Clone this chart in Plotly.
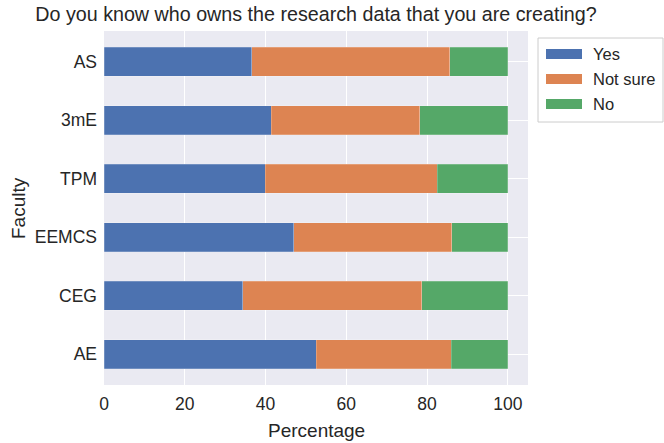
import plotly.graph_objects as go

faculties = ["AE", "CEG", "EEMCS", "TPM", "3mE", "AS"]
yes = [52.6, 34.4, 47.0, 39.9, 41.4, 36.6]
not_sure = [33.4, 44.3, 39.1, 42.6, 36.8, 49.0]
no = [14.0, 21.3, 13.9, 17.5, 21.8, 14.4]
x_ticks = [0, 20, 40, 60, 80, 100]

series = [("Yes", yes, "#4C72B0"), ("Not sure", not_sure, "#DD8452"), ("No", no, "#55A868")]

W, H = 664, 443
L, T = 104, 31
R = W - 528
B = H - 385
pw, ph = W - L - R, H - T - B

def px(x):
    return (x - L) / pw

def py(y):
    return (H - B - y) / ph

fig = go.Figure()
for name, vals, col in series:
    fig.add_trace(go.Bar(
        y=list(range(len(faculties))), x=vals, name=name, orientation="h",
        marker=dict(color=col, line=dict(width=0.6, color="rgba(255,255,255,0.35)")),
        width=0.5, showlegend=False,
    ))

font = "Liberation Sans, Arial, sans-serif"
txt = "#262626"

shapes = [dict(type="rect", xref="paper", yref="paper",
               x0=px(538), x1=px(663), y0=py(122), y1=py(38),
               fillcolor="white", line=dict(color="#CCCCCC", width=1), layer="above")]
annotations = []
for i, (name, vals, col) in enumerate(series):
    cy = 54 + 25 * i
    shapes.append(dict(type="rect", xref="paper", yref="paper",
                       x0=px(546), x1=px(582), y0=py(cy + 5), y1=py(cy - 5),
                       fillcolor=col, line=dict(width=0), layer="above"))
    annotations.append(dict(text=name, xref="paper", yref="paper", x=px(591), y=py(cy),
                            xanchor="left", yanchor="middle", showarrow=False,
                            font=dict(size=16.5, color=txt)))

annotations.append(dict(text="Faculty", xref="paper", yref="paper", x=px(18), y=py(208),
                        xanchor="center", yanchor="middle", textangle=-90, showarrow=False,
                        font=dict(size=19, color=txt)))
annotations.append(dict(text="Percentage", xref="paper", yref="paper", x=px(316), y=py(430),
                        xanchor="center", yanchor="middle", showarrow=False,
                        font=dict(size=19, color=txt)))

fig.update_layout(
    barmode="stack",
    width=W, height=H,
    margin=dict(l=L, r=R, t=T, b=B, autoexpand=False),
    paper_bgcolor="white", plot_bgcolor="#EAEAF2",
    font=dict(family=font, size=17, color=txt),
    title=dict(text="Do you know who owns the research data that you are creating?",
               x=px(316), xanchor="center", xref="paper", y=1 - 14.5 / H, yanchor="middle",
               font=dict(size=19.7, color=txt)),
    xaxis=dict(range=[0, 105], tickvals=x_ticks,
               showgrid=True, gridcolor="white", gridwidth=1.3, zeroline=False,
               ticks="", automargin=False, ticklabelstandoff=6,
               tickfont=dict(size=17.5)),
    yaxis=dict(range=[-0.525, 5.525], tickvals=list(range(len(faculties))),
               ticktext=faculties, showgrid=True, gridcolor="white", gridwidth=1.3,
               zeroline=False, ticks="", automargin=False, ticklabelstandoff=6,
               tickfont=dict(size=17.5)),
    shapes=shapes,
    annotations=annotations,
    showlegend=False,
    bargap=0.5,
)
fig.write_html("out.html", config={"displayModeBar": False},
               post_script="document.body.style.margin='0';")
